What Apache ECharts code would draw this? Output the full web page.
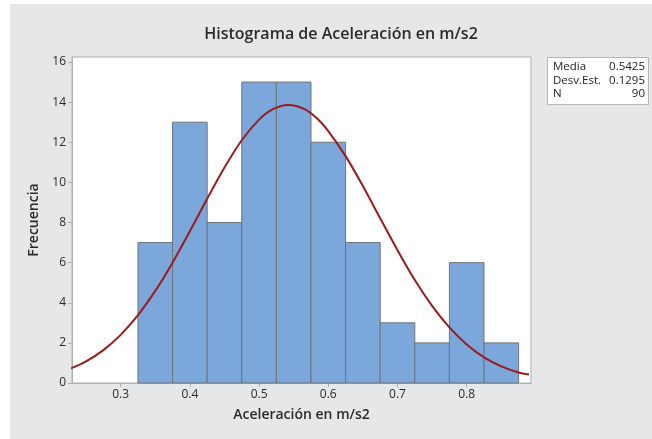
<!DOCTYPE html>
<html>
<head>
<meta charset="utf-8">
<title>Histograma de Aceleración</title>
<script src="https://cdn.jsdelivr.net/npm/echarts@6/dist/echarts.min.js"></script>
<style>
  html, body { margin: 0; padding: 0; background: #fff; }
  #main { width: 652px; height: 439px; }
</style>
</head>
<body>
<div id="main"></div>
<script>
// datos del histograma (centros de clase y frecuencias)
var binCenters = [0.35, 0.40, 0.45, 0.50, 0.55, 0.60, 0.65, 0.70, 0.75, 0.80, 0.85];
var counts = [7, 13, 8, 15, 15, 12, 7, 3, 2, 6, 2];
var binWidth = 0.05;

// curva normal ajustada
var curveX = [0.225, 0.25, 0.275, 0.30, 0.325, 0.35, 0.375, 0.40, 0.425, 0.45, 0.475, 0.50, 0.52, 0.5425,
              0.565, 0.585, 0.60, 0.625, 0.65, 0.675, 0.70, 0.725, 0.75, 0.775, 0.80, 0.825, 0.85, 0.875, 0.89];
var curveY = [0.69, 1.08, 1.64, 2.40, 3.38, 4.59, 6.00, 7.56, 9.18, 10.74, 12.10, 13.13, 13.65, 13.86,
              13.66, 13.15, 12.56, 11.31, 9.82, 8.21, 6.62, 5.13, 3.84, 2.77, 1.92, 1.28, 0.83, 0.52, 0.42];

var yTicks = [0, 2, 4, 6, 8, 10, 12, 14, 16];
var statNames = ['Media', 'Desv.Est.', 'N'];
var statValues = ['0.5425', '0.1295', '90'];

var font = "'Open Sans', 'Noto Sans', sans-serif";

var myChart = echarts.init(document.getElementById('main'));

var curveData = curveX.map(function (x, i) { return [x, curveY[i]]; });
var barData = binCenters.map(function (c, i) { return [c, counts[i]]; });

// fondo gris y cuadro de estadisticos
var statGraphics = [{
    type: 'rect',
    z: -10,
    shape: { x: 10, y: 4, width: 642, height: 435 },
    style: { fill: '#e6e7e9' }
}, {
    type: 'rect',
    shape: { x: 547.5, y: 57.5, width: 101, height: 47 },
    style: { fill: '#fff', stroke: '#b4b4b4', lineWidth: 1 }
}];
statNames.forEach(function (name, i) {
    statGraphics.push({
        type: 'text',
        x: 553, y: 67 + i * 13.5,
        style: { text: name, font: '11.5px ' + font, fill: '#222', verticalAlign: 'middle' }
    });
    statGraphics.push({
        type: 'text',
        x: 645, y: 67 + i * 13.5,
        style: { text: statValues[i], font: '11.5px ' + font, fill: '#222', align: 'right', verticalAlign: 'middle' }
    });
});

var option = {
    backgroundColor: '#fff',
    animation: false,
    textStyle: { fontFamily: font },
    title: {
        text: 'Histograma de Aceleración en m/s2',
        left: 336,
        textAlign: 'center',
        top: 21,
        textStyle: { fontFamily: font, fontSize: 16, fontWeight: 600, color: '#2b2b2b' }
    },
    graphic: statGraphics,
    grid: {
        left: 72, top: 57, right: 121, bottom: 56,
        show: true,
        backgroundColor: '#fff',
        borderColor: '#b0b0b0',
        borderWidth: 1
    },
    xAxis: {
        type: 'value',
        min: 0.2297,
        max: 0.8929,
        minInterval: 0.1,
        maxInterval: 0.1,
        name: 'Aceleración en m/s2',
        nameLocation: 'middle',
        nameGap: 25,
        nameTextStyle: { fontFamily: font, fontSize: 14, fontWeight: 600, color: '#2b2b2b' },
        splitLine: { show: false },
        axisLine: { lineStyle: { color: '#b0b0b0' } },
        axisTick: { length: 4, lineStyle: { color: '#b0b0b0' } },
        axisLabel: {
            showMinLabel: false, showMaxLabel: false,
            color: '#2b2b2b', fontSize: 12, margin: 6,
            formatter: function (v) { return v.toFixed(1); }
        }
    },
    yAxis: {
        type: 'value',
        min: 0,
        max: 16.25,
        interval: 2,
        name: 'Frecuencia',
        nameLocation: 'middle',
        nameGap: 28,
        nameTextStyle: { fontFamily: font, fontSize: 14, fontWeight: 600, color: '#2b2b2b' },
        splitLine: { show: false },
        axisLine: { show: true, lineStyle: { color: '#b0b0b0' } },
        axisTick: { show: true, length: 4, lineStyle: { color: '#b0b0b0' } },
        axisLabel: {
            showMaxLabel: false,
            color: '#2b2b2b', fontSize: 12, margin: 6,
            formatter: function (v) { return yTicks.indexOf(v) >= 0 ? String(v) : ''; }
        }
    },
    series: [{
        type: 'custom',
        name: 'Frecuencia',
        data: barData,
        renderItem: function (params, api) {
            var c = api.value(0), h = api.value(1);
            var p0 = api.coord([c - binWidth / 2, h]);
            var p1 = api.coord([c + binWidth / 2, 0]);
            return {
                type: 'rect',
                shape: { x: p0[0], y: p0[1], width: p1[0] - p0[0], height: p1[1] - p0[1] },
                style: { fill: '#7ba7db', stroke: '#6f7478', lineWidth: 1 }
            };
        }
    }, {
        type: 'line',
        name: 'Normal',
        data: curveData,
        smooth: 0.3,
        showSymbol: false,
        clip: true,
        lineStyle: { color: '#9b1b1f', width: 2 }
    }]
};

myChart.setOption(option);
</script>
</body>
</html>
